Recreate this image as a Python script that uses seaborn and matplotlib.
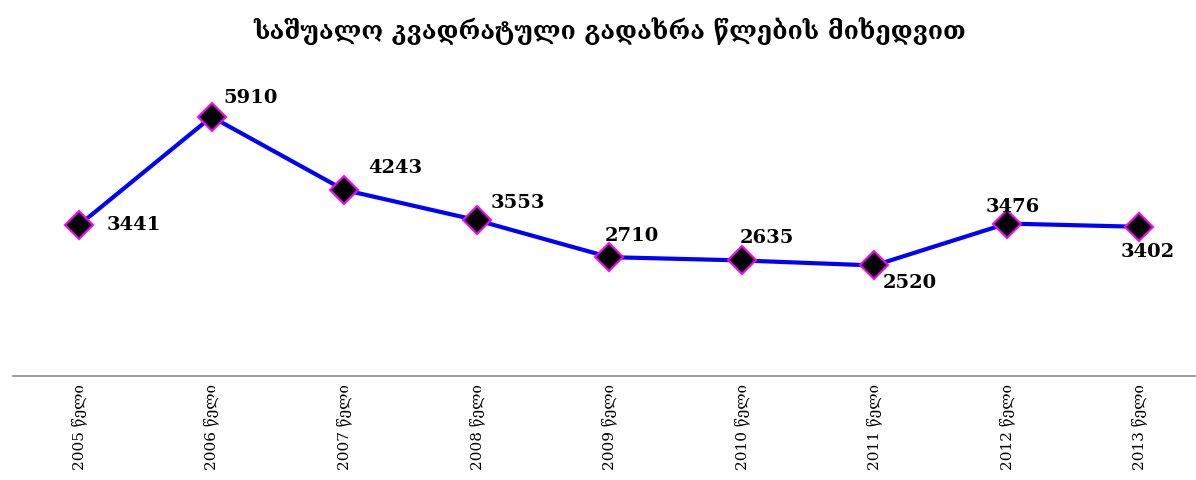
import numpy as np
import pandas as pd
import matplotlib
matplotlib.use('Agg')
import matplotlib.pyplot as plt
import seaborn as sns

# data
years = ['2005', '2006', '2007', '2008', '2009', '2010', '2011', '2012', '2013']
values = [3441, 5910, 4243, 3553, 2710, 2635, 2520, 3476, 3402]
year_word = 'წელი'
title = 'საშუალო კვადრატული გადახრა წლების მიხედვით'

tick_labels = [y + ' ' + year_word for y in years]
df = pd.DataFrame({'year': tick_labels, 'value': values})

sns.set_style('white')
plt.rcParams['font.family'] = ['DejaVu Serif', 'DejaVu Sans']
plt.rcParams['text.color'] = 'black'
plt.rcParams['xtick.color'] = 'black'

fig = plt.figure(figsize=(11.96, 4.8), dpi=100)
ax = fig.add_axes([12.7 / 1196, 104 / 480, 1193 / 1196, 307 / 480])

sns.lineplot(data=df, x='year', y='value', sort=False, ax=ax,
             color='#0000FF', linewidth=3,
             marker='D', markersize=14, markerfacecolor='black',
             markeredgecolor='#FF00FF', markeredgewidth=1.5, zorder=3)

# label placement (pixels offset from marker centre)
offsets = [(55, 0), (39, 19), (51, 22), (41, 17), (23, 21), (25, 22), (35, -18), (6, 17), (8, -25)]
for i, (v, off) in enumerate(zip(values, offsets)):
    ax.annotate(str(v), (i, v), xytext=off, textcoords='offset pixels',
                ha='center', va='center', fontsize=14, fontweight='bold',
                family=['DejaVu Serif'], color='black', zorder=4)

ax.set_xlim(-0.5, 8.5)
ax.set_ylim(0, 7000)
ax.set_yticks([])
ax.set_xlabel('')
ax.set_ylabel('')
for s in ['top', 'right', 'left']:
    ax.spines[s].set_visible(False)
ax.spines['bottom'].set_color('#8c8c8c')
ax.spines['bottom'].set_linewidth(1.2)

ax.set_xticks(range(len(tick_labels)))
ax.set_xticklabels(tick_labels, rotation=90, fontsize=11,
                   family=['DejaVu Serif', 'DejaVu Sans'])
ax.tick_params(axis='x', length=0, pad=6)

fig.suptitle(title, x=0.51, y=0.965, fontsize=17.8, fontweight='bold',
             family=['DejaVu Serif', 'DejaVu Sans'], color='black')

fig.savefig('out.png', dpi=100)
